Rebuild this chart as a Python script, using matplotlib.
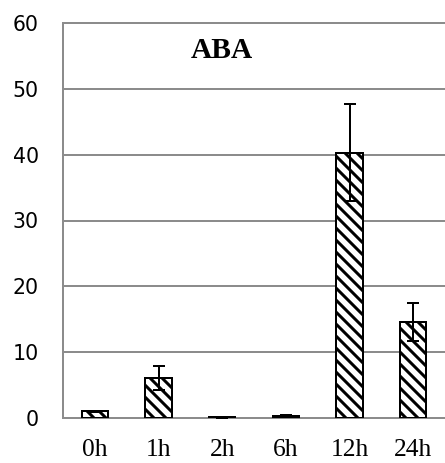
import matplotlib
matplotlib.use("Agg")
import matplotlib.pyplot as plt

categories = ["0h", "1h", "2h", "6h", "12h", "24h"]
values = [1.0, 6.1, 0.1, 0.35, 40.3, 14.6]
errors = [0.1, 1.85, 0.05, 0.1, 7.4, 2.85]
yticks = [0, 10, 20, 30, 40, 50, 60]

DPI = 72
W, H = 445, 463
plt.rcParams['hatch.linewidth'] = 3.0
plt.rcParams['hatch.color'] = 'black'

fig = plt.figure(figsize=(W / DPI, H / DPI), dpi=DPI)
ax = fig.add_axes([63 / W, (H - 418) / H, (445 - 63) / W, (418 - 23) / H])

gray = '#8c8c8c'
x = list(range(len(categories)))
ax.bar(x, values, width=0.41, color='white', edgecolor='black', linewidth=2,
       hatch='\\\\', zorder=3)
ax.errorbar(x, values, yerr=errors, fmt='none', ecolor='black', elinewidth=2,
            capsize=6, capthick=2, zorder=4)

ax.set_xlim(-0.5, len(categories) - 0.5)
ax.set_ylim(0, 60)
ax.set_yticks(yticks)
ax.set_yticklabels([str(t) for t in yticks], fontsize=20.5, family='DejaVu Sans')
ax.set_xticks(x)
ax.set_xticklabels(categories, fontsize=25.5, family='Liberation Serif')
ax.tick_params(axis='y', length=0, pad=24)
ax.tick_params(axis='x', length=0, pad=21)

ax.yaxis.grid(True, color=gray, linewidth=2, zorder=0)
ax.set_axisbelow(True)
ax.spines['right'].set_visible(False)
for s in ['left', 'bottom', 'top']:
    ax.spines[s].set_color(gray)
    ax.spines[s].set_linewidth(2)

ax.text(2.0, 55.8, "ABA", fontsize=29.5, fontweight='bold', family='Liberation Serif',
        ha='center', va='center')

fig.savefig("out.png", dpi=DPI)
